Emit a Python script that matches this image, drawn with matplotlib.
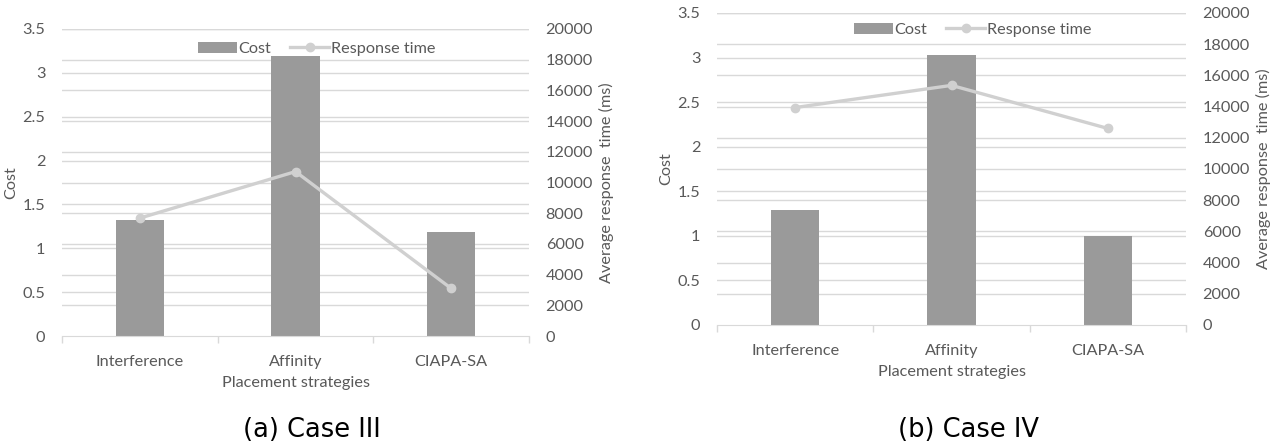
import matplotlib
matplotlib.use("Agg")
import matplotlib.pyplot as plt
import numpy as np

plt.rcParams['font.family'] = ['Lato', 'DejaVu Sans']

strategies = ["Interference", "Affinity", "CIAPA-SA"]

# case III
cost_iii = [1.32, 3.19, 1.19]
resp_iii = [7680, 10710, 3100]

# case IV
cost_iv = [1.29, 3.03, 1.0]
resp_iv = [13940, 15360, 12600]

cost_ticks = [0, 0.5, 1, 1.5, 2, 2.5, 3, 3.5]
resp_ticks = list(range(0, 20001, 2000))

TEXT = "#595959"
GRID = "#d9d9d9"
BAR = "#9a9a9a"
LINE = "#d0d0d0"
FS = 11.7

W, H = 1278, 446
fig = plt.figure(figsize=(W / 100, H / 100), dpi=100)


def panel(rect, cost, resp, caption, legend_y, cap_x):
    x0, y0, x1, y1 = rect
    ax = fig.add_axes([x0 / W, 1 - y1 / H, (x1 - x0) / W, (y1 - y0) / H])
    ax2 = ax.twinx()
    x = np.arange(len(strategies))

    cmax = cost_ticks[-1]
    rmax = resp_ticks[-1]
    # gridlines for both scales, kept behind the bars
    for t in cost_ticks[1:]:
        ax.axhline(t, color=GRID, lw=1, zorder=0)
    for t in resp_ticks[1:]:
        ax.axhline(t / rmax * cmax, color=GRID, lw=1, zorder=0)

    bars = ax.bar(x, cost, width=0.31, color=BAR, zorder=2, label="Cost")
    line, = ax2.plot(x, resp, color=LINE, lw=2.4, marker="o", ms=6,
                     label="Response time", zorder=3)

    ax.set_xlim(-0.5, len(strategies) - 0.5)
    ax.set_ylim(0, cmax)
    ax2.set_ylim(0, rmax)
    ax.set_yticks(cost_ticks)
    ax.set_yticklabels([f"{t:g}" for t in cost_ticks])
    ax2.set_yticks(resp_ticks)

    ax.set_xticks(x)
    ax.set_xticklabels(strategies)
    ax.set_xticks(np.arange(-0.5, len(strategies)), minor=True)
    ax.tick_params(axis="x", which="major", length=0, pad=14, labelsize=FS, colors=TEXT)
    ax.tick_params(axis="x", which="minor", length=5, color=GRID, width=1)
    ax.tick_params(axis="y", length=0, pad=12, labelsize=FS, colors=TEXT)
    ax2.tick_params(axis="y", length=0, pad=12, labelsize=FS, colors=TEXT)

    for a in (ax, ax2):
        for s in a.spines.values():
            s.set_visible(False)
    ax.spines["bottom"].set_visible(True)
    ax.spines["bottom"].set_color(GRID)

    ax.set_xlabel("Placement strategies", color=TEXT, fontsize=FS, labelpad=5)
    ax.set_ylabel("Cost", color=TEXT, fontsize=FS, labelpad=3)
    ax2.set_ylabel("Average response  time (ms)", color=TEXT, fontsize=FS, labelpad=4)

    ax.legend([bars, line], ["Cost", "Response time"], loc="upper center",
              bbox_to_anchor=(0.545, legend_y), ncol=2, frameon=False,
              fontsize=FS, labelcolor=TEXT, handlelength=2.4,
              handletextpad=0.1, columnspacing=1.2, borderaxespad=0)

    fig.text(cap_x / W, 1 - 430 / H, caption, ha="center", va="center",
             fontsize=18.5, family="DejaVu Sans", color="black")


panel((62, 29, 529, 336), cost_iii, resp_iii, "(a) Case III", 0.98, 312)
panel((717, 13, 1186, 325), cost_iv, resp_iv, "(b) Case IV", 0.99, 968)

fig.savefig("out.png", dpi=100, facecolor="white")
